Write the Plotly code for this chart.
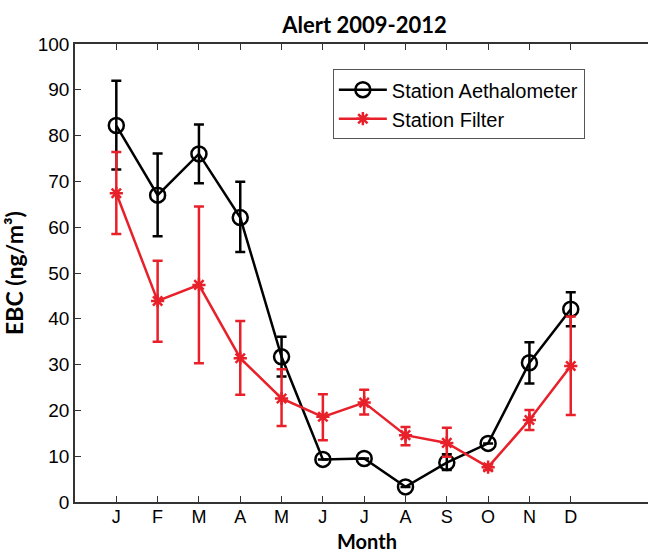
import plotly.graph_objects as go

months = ["J", "F", "M", "A", "M", "J", "J", "A", "S", "O", "N", "D"]
month_pos = list(range(1, 13))

aeth_mean = [82.2, 67.0, 76.0, 62.1, 31.7, 9.3, 9.5, 3.3, 8.6, 12.8, 30.4, 42.1]
aeth_upper = [92.0, 76.1, 82.4, 69.9, 36.1, 9.3, 9.5, 3.3, 10.4, 12.8, 34.9, 45.8]
aeth_lower = [72.6, 58.0, 69.6, 54.6, 27.4, 9.3, 9.5, 3.3, 7.0, 12.8, 25.9, 38.4]

filt_mean = [67.4, 43.9, 47.4, 31.4, 22.6, 18.6, 21.7, 14.6, 12.9, 7.6, 17.9, 29.7]
filt_upper = [76.4, 52.7, 64.5, 39.5, 29.0, 23.5, 24.5, 16.4, 16.2, 8.2, 20.1, 40.5]
filt_lower = [58.5, 35.0, 30.3, 23.4, 16.6, 13.5, 19.1, 12.4, 9.9, 7.0, 15.7, 19.0]


def plus(m, u):
    return [a - b for a, b in zip(u, m)]


def minus(m, l):
    return [a - b for a, b in zip(m, l)]


fig = go.Figure()

fig.add_trace(go.Scatter(
    x=month_pos, y=aeth_mean, mode="lines+markers", name="Station Aethalometer",
    line=dict(color="black", width=2.5),
    marker=dict(symbol="circle-open", size=15, color="black", line=dict(width=2.5)),
    error_y=dict(type="data", symmetric=False, array=plus(aeth_mean, aeth_upper),
                 arrayminus=minus(aeth_mean, aeth_lower), color="black",
                 thickness=2.5, width=5),
))

fig.add_trace(go.Scatter(
    x=month_pos, y=filt_mean, mode="lines+markers", name="Station Filter",
    line=dict(color="#e8202a", width=2.5),
    marker=dict(symbol="asterisk-open", size=11, color="#e8202a",
                line=dict(width=2.5, color="#e8202a")),
    error_y=dict(type="data", symmetric=False, array=plus(filt_mean, filt_upper),
                 arrayminus=minus(filt_mean, filt_lower), color="#e8202a",
                 thickness=2.5, width=5),
))

fig.update_layout(
    width=648, height=553,
    margin=dict(l=75, r=0, t=44, b=51),
    paper_bgcolor="white", plot_bgcolor="white",
    font=dict(family="Liberation Sans, Arial", size=19, color="black"),
    title=dict(text="<b>Alert 2009-2012</b>", x=0.5625, xanchor="center",
               y=0.955, yanchor="middle",
               font=dict(family="Lato, Open Sans", size=22, color="black")),
    legend=dict(x=0.45, y=0.945, xanchor="left", yanchor="top",
                bordercolor="#555555", borderwidth=1, bgcolor="white",
                font=dict(size=20), itemwidth=48, tracegroupgap=0),
    xaxis=dict(
        range=[0, 13.87], tickmode="array", tickvals=month_pos, ticktext=months,
        ticks="inside", ticklen=6, tickcolor="#333333", showline=True,
        linecolor="#333333", linewidth=1.5, mirror="ticks", showgrid=False,
        zeroline=False, tickfont=dict(size=18), ticklabelstandoff=-2,
    ),
    yaxis=dict(
        range=[0, 100], dtick=10, ticks="inside", ticklen=6, tickcolor="#333333",
        showline=True, linecolor="#333333", linewidth=1.5, showgrid=False,
        zeroline=False,
        title=dict(text="<b>EBC (ng/m³)</b>", standoff=8,
                   font=dict(family="Lato, Open Sans", size=23)),
    ),
    annotations=[dict(
        text="<b>Month</b>", xref="paper", yref="paper", x=0.51, y=-0.085,
        xanchor="center", yanchor="middle", showarrow=False, borderpad=0,
        font=dict(family="Lato, Open Sans", size=20, color="black"),
    )],
)

fig.write_html("out.html")
